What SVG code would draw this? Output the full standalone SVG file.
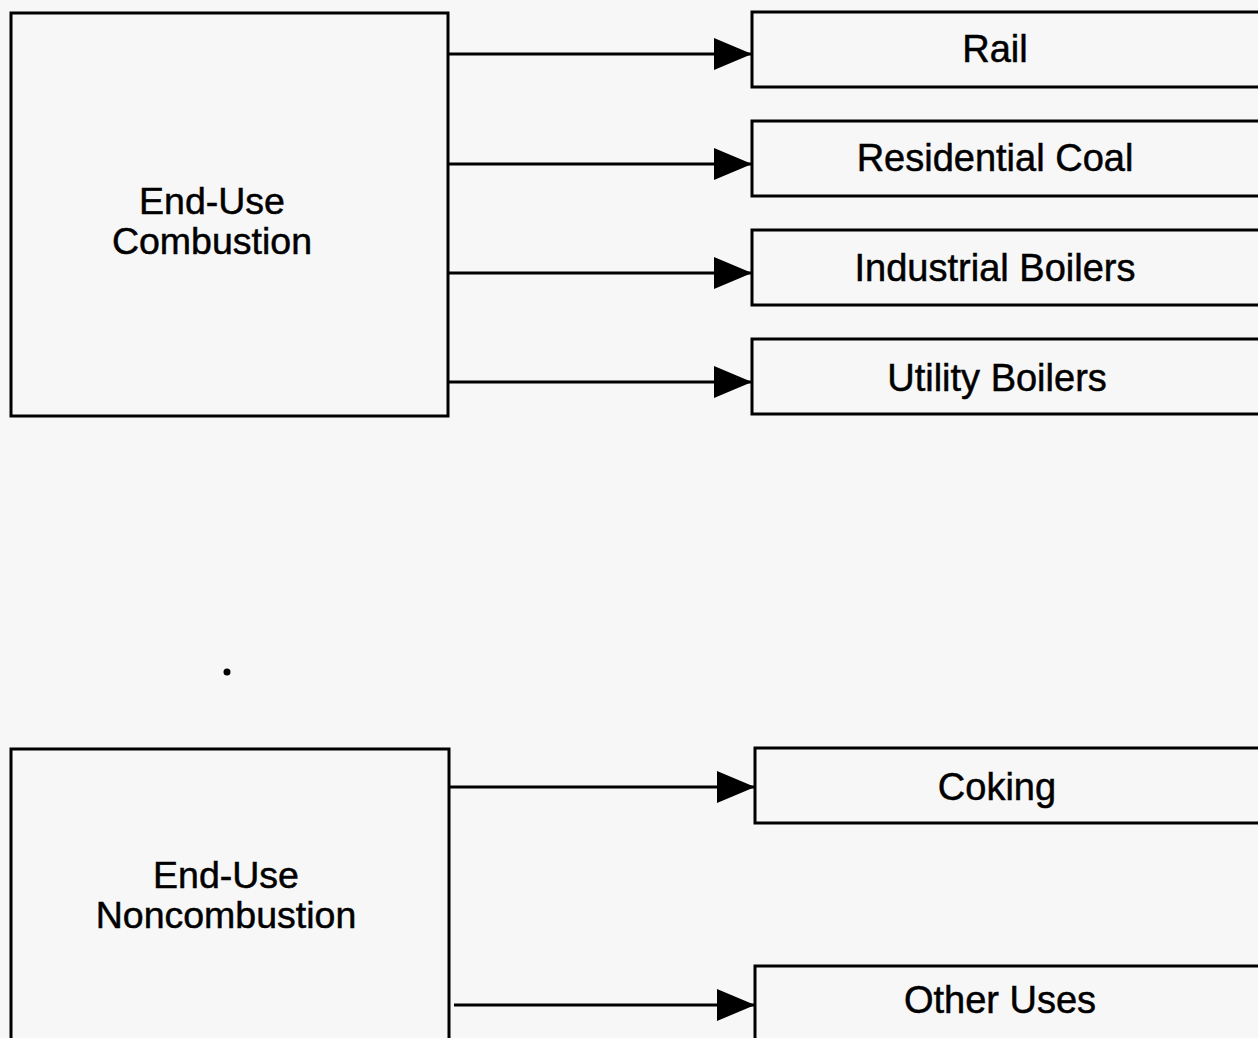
<svg xmlns="http://www.w3.org/2000/svg" width="1258" height="1038" viewBox="0 0 1258 1038">
<defs>
<style>
.box{fill:none;stroke:#000;stroke-width:3}
.lbl{font-family:"Liberation Sans",Arial,Helvetica,sans-serif;font-size:38px;fill:#000;stroke:#000;stroke-width:0.5;text-anchor:middle}
.big{font-size:37.5px}
.conn{stroke:#000;stroke-width:3;fill:none;marker-end:url(#ah)}
</style>
<marker id="ah" markerUnits="userSpaceOnUse" markerWidth="40" markerHeight="34" refX="38" refY="17" orient="auto" viewBox="0 0 40 34">
<path d="M0,1 L38,17 L0,33 Z" fill="#000"/>
</marker>
</defs>
<rect width="1258" height="1038" fill="#f7f7f7"/>
<g id="combustion">
<rect class="box" x="11" y="13" width="437" height="403"/>
<text class="lbl big" x="212" y="214">End-Use</text>
<text class="lbl big" x="212" y="254">Combustion</text>
</g>
<g id="rail">
<rect class="box" x="752" y="12" width="520" height="75"/>
<text class="lbl" x="995" y="62">Rail</text>
</g>
<g id="residential">
<rect class="box" x="752" y="121" width="520" height="75"/>
<text class="lbl" x="995" y="171">Residential Coal</text>
</g>
<g id="industrial">
<rect class="box" x="752" y="230" width="520" height="75"/>
<text class="lbl" x="995" y="281">Industrial Boilers</text>
</g>
<g id="utility">
<rect class="box" x="752" y="339" width="520" height="75"/>
<text class="lbl" x="997" y="391">Utility Boilers</text>
</g>
<g id="noncombustion">
<rect class="box" x="11" y="749" width="438" height="320"/>
<text class="lbl big" x="226" y="888">End-Use</text>
<text class="lbl big" x="226" y="928">Noncombustion</text>
</g>
<g id="coking">
<rect class="box" x="755" y="748" width="520" height="75"/>
<text class="lbl" x="997" y="800">Coking</text>
</g>
<g id="other">
<rect class="box" x="755" y="966" width="520" height="100"/>
<text class="lbl" x="1000" y="1013">Other Uses</text>
</g>
<g id="connectors">
<line class="conn" x1="448" y1="54" x2="752" y2="54"/>
<line class="conn" x1="448" y1="164" x2="752" y2="164"/>
<line class="conn" x1="448" y1="273" x2="752" y2="273"/>
<line class="conn" x1="448" y1="382" x2="752" y2="382"/>
<line class="conn" x1="449" y1="787" x2="755" y2="787"/>
<line class="conn" x1="454" y1="1005" x2="755" y2="1005"/>
</g>
<circle cx="227" cy="672" r="3.5" fill="#000"/>
</svg>
